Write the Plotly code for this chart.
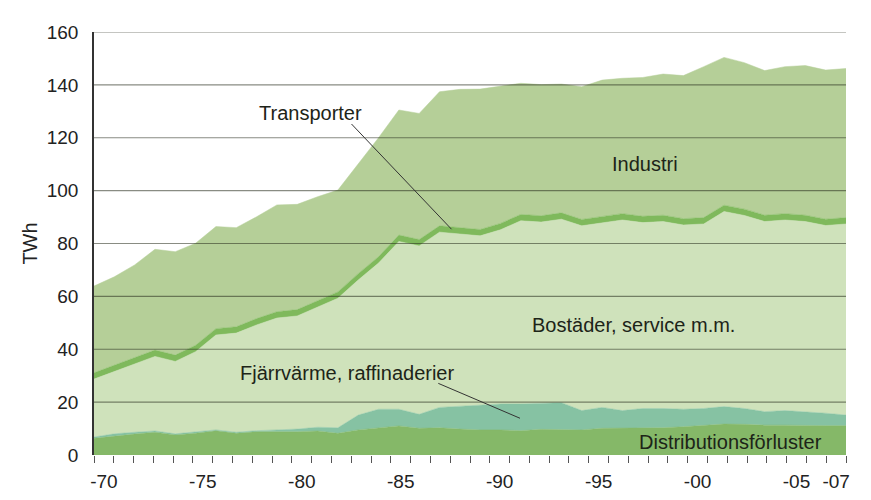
import plotly.graph_objects as go

years = list(range(1970, 2008))

distribution = [6.3, 7.2, 7.9, 8.6, 7.6, 8.2, 9.2, 8.2, 8.8, 8.8,
                8.8, 9.1, 8.2, 9.5, 10.3, 11.0, 10.1, 10.3, 9.8, 9.5,
                9.5, 9.2, 9.7, 9.7, 9.5, 10.1, 10.1, 10.3, 10.3, 10.7,
                11.3, 11.7, 11.6, 11.3, 11.3, 11.1, 11.1, 11.1]
fjarrvarme = [0.5, 0.8, 0.7, 0.5, 0.4, 0.6, 0.3, 0.4, 0.4, 0.7,
              1.0, 1.4, 2.1, 5.6, 7.0, 6.3, 5.3, 7.7, 8.7, 9.4,
              9.8, 10.1, 9.8, 10.1, 7.3, 7.9, 6.7, 7.3, 7.3, 6.6,
              6.3, 6.6, 6.0, 5.1, 5.5, 5.3, 4.7, 4.0]
bostader = [21.9, 23.6, 25.9, 28.2, 27.4, 30.3, 35.9, 37.5, 40.0, 42.3,
            42.8, 45.4, 49.0, 51.1, 55.3, 63.5, 63.7, 66.3, 65.1, 64.0,
            65.9, 69.3, 68.6, 69.4, 69.9, 69.9, 72.1, 70.3, 70.7, 69.7,
            69.8, 73.8, 73.0, 71.9, 72.1, 71.9, 71.0, 72.3]
transporter = [2.4] * 38
industri = [32.8, 33.4, 35.0, 38.1, 39.1, 38.6, 38.6, 37.5, 38.5, 40.4,
            39.8, 39.4, 38.5, 41.4, 45.0, 47.3, 47.7, 50.7, 52.3, 53.1,
            52.0, 49.6, 49.6, 48.7, 50.2, 51.5, 51.2, 52.5, 53.4, 54.1,
            57.1, 55.9, 55.4, 54.7, 55.6, 56.6, 56.4, 56.4]

y_ticks = [0, 20, 40, 60, 80, 100, 120, 140, 160]
x_label_years = [1970, 1975, 1980, 1985, 1990, 1995, 2000, 2005, 2007]
x_label_text = ["-70", "-75", "-80", "-85", "-90", "-95", "-00", "-05", "-07"]

series = [
    ("Distributionsförluster", distribution, "#85b868"),
    ("Fjärrvärme, raffinaderier", fjarrvarme, "#86c2a3"),
    ("Bostäder, service m.m.", bostader, "#cfe2bb"),
    ("Transporter", transporter, "#7fb95c"),
    ("Industri", industri, "#b5cf98"),
]

FONT = "Liberation Sans, Arial, sans-serif"
TXT = "#1d2418"

fig = go.Figure()
for name, vals, col in series:
    fig.add_trace(go.Scatter(
        x=years, y=vals, name=name, stackgroup="one", mode="lines",
        line=dict(width=0.5, color=col), fillcolor=col, hoverinfo="skip",
        showlegend=False,
    ))

n_bins = len(years)
# empty helper trace so that the year-bin label axis gets drawn
fig.add_trace(go.Scatter(x=[0, n_bins], y=[None, None], xaxis="x2", yaxis="y",
                         mode="lines", showlegend=False, hoverinfo="skip"))

# horizontal grid lines drawn above the areas
for v in y_ticks[1:]:
    fig.add_shape(type="line", xref="paper", yref="y", x0=0, x1=1, y0=v, y1=v,
                  line=dict(color="rgba(40,45,30,0.55)", width=1.2), layer="above")

# leader lines
fig.add_shape(type="line", xref="x", yref="y", x0=1982.67, y0=125.2, x1=1987.59, y1=85.4,
              line=dict(color="#333", width=1), layer="above")
fig.add_shape(type="line", xref="x", yref="y", x0=1986.94, y0=27.1, x1=1990.96, y1=13.9,
              line=dict(color="#333", width=1), layer="above")

labels = [
    ("Transporter", 1980.66, 129.2),
    ("Fjärrvärme, raffinaderier", 1982.44, 31.1),
    ("Industri", 1997.1, 109.9),
    ("Bostäder, service m.m.", 1996.56, 49.2),
    ("Distributionsförluster", 2001.33, 4.8),
]
for text, x, y in labels:
    fig.add_annotation(x=x, y=y, xref="x", yref="y", text=text, showarrow=False,
                       font=dict(family=FONT, size=20, color=TXT))

fig.update_layout(
    width=855, height=484,
    margin=dict(l=86, r=17, t=24, b=37),
    paper_bgcolor="white", plot_bgcolor="white",
    font=dict(family=FONT, size=19, color="#222"),
    xaxis=dict(range=[years[0], years[-1]], showticklabels=False, ticks="",
               showgrid=False, zeroline=False, showline=False, fixedrange=True),
    xaxis2=dict(overlaying="x", anchor="y", side="bottom", range=[0, n_bins],
                tickmode="array",
                tickvals=[y - years[0] + 0.5 for y in x_label_years],
                ticktext=x_label_text, ticks="outside", ticklen=4,
                tickcolor="rgba(0,0,0,0)", ticklabelstandoff=5,
                showgrid=False, zeroline=False,
                showline=False, tickfont=dict(size=19, color="#222"),
                automargin=False,
                minor=dict(tickmode="array", tickvals=list(range(n_bins + 1)),
                           ticks="outside", ticklen=7, tickcolor="#555", tickwidth=1,
                           showgrid=False)),
    yaxis=dict(range=[0, 160], tickmode="array", tickvals=y_ticks, showgrid=False,
               zeroline=False, showline=True, linecolor="#333", linewidth=1.5,
               ticks="", ticklabelstandoff=10, layer="above traces", automargin=False,
               title=dict(text="TWh", font=dict(size=20, color="#222"), standoff=4),
               tickfont=dict(size=19, color="#222")),
)

fig.write_html("out.html")
